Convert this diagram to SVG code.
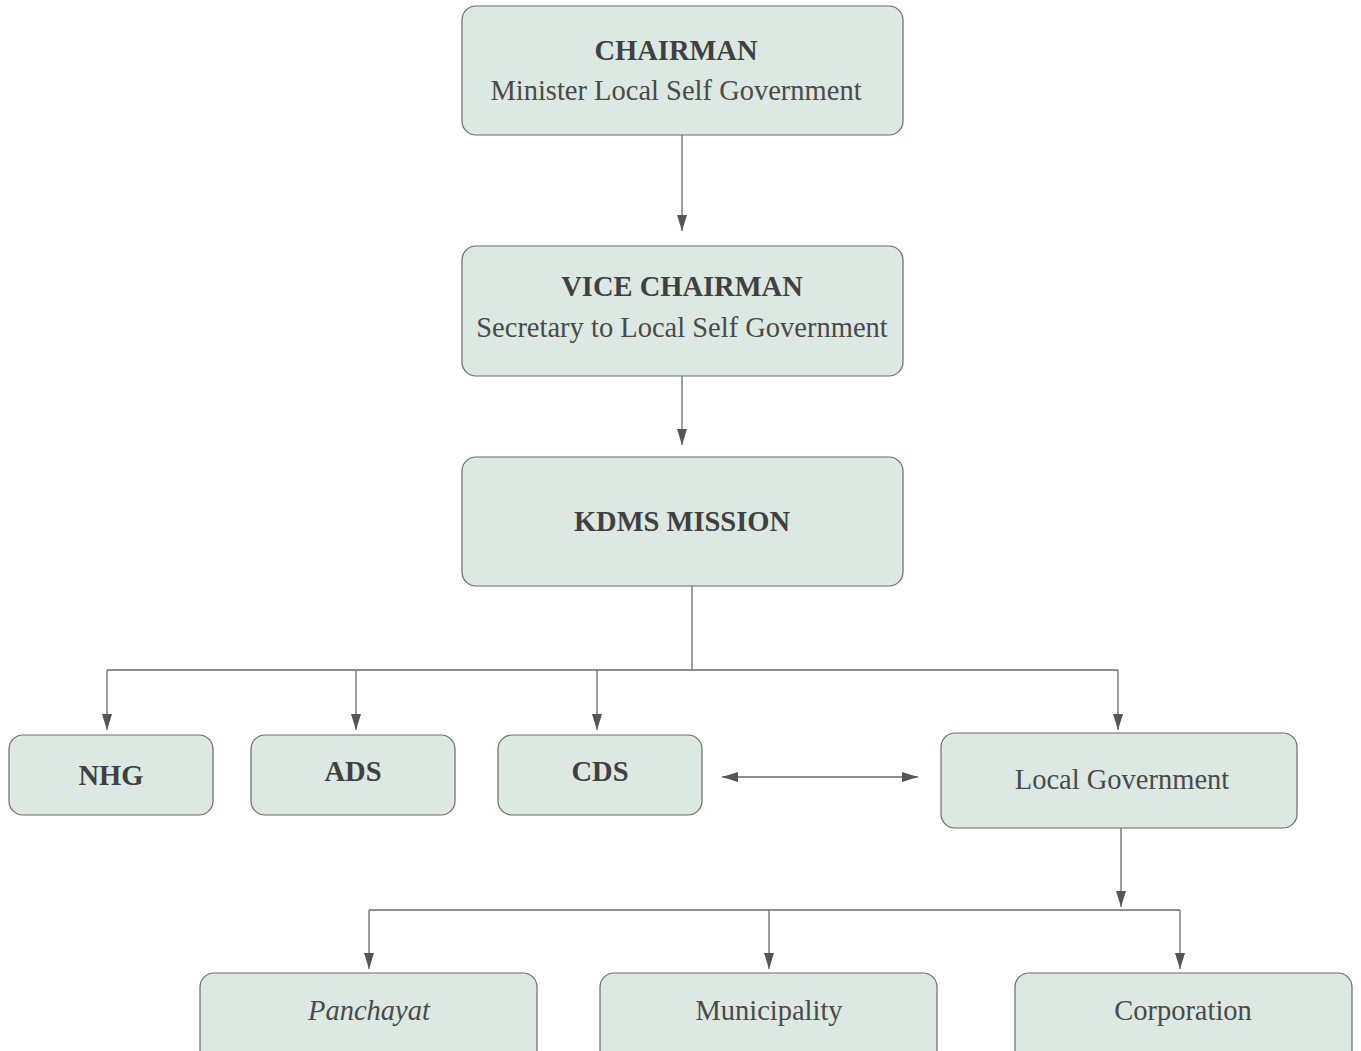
<svg xmlns="http://www.w3.org/2000/svg" width="1361" height="1051" viewBox="0 0 1361 1051">
<defs>
<style>
.box{fill:#dce9e2;stroke:#6a6a6a;stroke-width:1.2}
.t{font-family:"Liberation Serif","Times New Roman",serif;font-size:28.5px;fill:#4a4a4a;text-anchor:middle}
.b{font-weight:bold;fill:#404040}
.i{font-style:italic}
.c{fill:none;stroke:#6a6a6a;stroke-width:1.3}
</style>
<marker id="ahw" viewBox="0 0 16 10" refX="16" refY="5" markerWidth="16" markerHeight="10" markerUnits="userSpaceOnUse" orient="auto-start-reverse">
<path d="M0,0 L16,5 L0,10 z" fill="#555"/>
</marker>
</defs>
<rect width="1361" height="1051" fill="#fff"/>
<g id="connectors">
<path class="c" d="M682,135 V231" marker-end="url(#ahw)"/>
<path class="c" d="M682,376 V445" marker-end="url(#ahw)"/>
<path class="c" d="M692,586 V670 M107,670 H1118"/>
<path class="c" d="M107,670 V730" marker-end="url(#ahw)"/>
<path class="c" d="M356,670 V730" marker-end="url(#ahw)"/>
<path class="c" d="M597,670 V730" marker-end="url(#ahw)"/>
<path class="c" d="M1118,670 V730" marker-end="url(#ahw)"/>
<path class="c" d="M722,777 H918" marker-start="url(#ahw)" marker-end="url(#ahw)"/>
<path class="c" d="M1121,828 V907"  marker-end="url(#ahw)"/>
<path class="c" d="M369,910 H1180"/>
<path class="c" d="M369,910 V969" marker-end="url(#ahw)"/>
<path class="c" d="M769,910 V969" marker-end="url(#ahw)"/>
<path class="c" d="M1180,910 V969" marker-end="url(#ahw)"/>
</g>
<g id="chairman">
<rect class="box" x="462" y="6" width="441" height="129" rx="14"/>
<text class="t b" x="676" y="60">CHAIRMAN</text>
<text class="t" x="676" y="100">Minister Local Self Government</text>
</g>
<g id="vice-chairman">
<rect class="box" x="462" y="246" width="441" height="130" rx="14"/>
<text class="t b" x="682" y="296">VICE CHAIRMAN</text>
<text class="t" x="682" y="337">Secretary to Local Self Government</text>
</g>
<g id="kdms-mission">
<rect class="box" x="462" y="457" width="441" height="129" rx="14"/>
<text class="t b" x="682" y="531">KDMS MISSION</text>
</g>
<g id="nhg">
<rect class="box" x="9" y="735" width="204" height="80" rx="14"/>
<text class="t b" x="111" y="785">NHG</text>
</g>
<g id="ads">
<rect class="box" x="251" y="735" width="204" height="80" rx="14"/>
<text class="t b" x="353" y="781">ADS</text>
</g>
<g id="cds">
<rect class="box" x="498" y="735" width="204" height="80" rx="14"/>
<text class="t b" x="600" y="781">CDS</text>
</g>
<g id="local-government">
<rect class="box" x="941" y="733" width="356" height="95" rx="14"/>
<text class="t" x="1122" y="789">Local Government</text>
</g>
<g id="panchayat">
<rect class="box" x="200" y="973" width="337" height="100" rx="14"/>
<text class="t i" x="369" y="1020">Panchayat</text>
</g>
<g id="municipality">
<rect class="box" x="600" y="973" width="337" height="100" rx="14"/>
<text class="t" x="769" y="1020">Municipality</text>
</g>
<g id="corporation">
<rect class="box" x="1015" y="973" width="337" height="100" rx="14"/>
<text class="t" x="1183" y="1020">Corporation</text>
</g>
</svg>
